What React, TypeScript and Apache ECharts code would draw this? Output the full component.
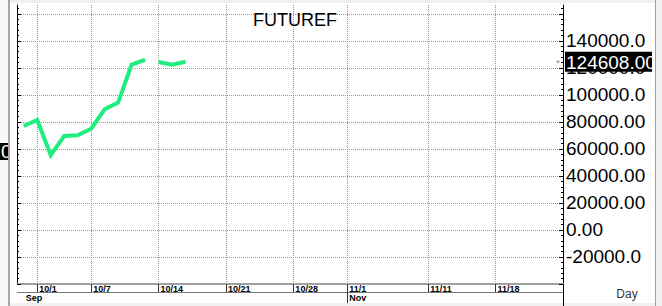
import React, { useEffect, useRef } from 'react';
import * as echarts from 'echarts';

// Trading-day calendar shown on the x axis (index = position on the axis)
const dates = [
  '9/30', '10/1', '10/2', '10/3', '10/4', '10/7', '10/8', '10/9', '10/10', '10/11',
  '10/14', '10/15', '10/16', '10/17', '10/18', '10/21', '10/22', '10/23', '10/24', '10/25',
  '10/28', '10/29', '10/30', '10/31', '11/1', '11/4', '11/5', '11/6', '11/7', '11/8',
  '11/11', '11/12', '11/13', '11/14', '11/15', '11/18', '11/19', '11/20', '11/21', '11/22',
  '11/25',
];
const monthNames = ['Jan', 'Feb', 'Mar', 'Apr', 'May', 'Jun', 'Jul', 'Aug', 'Sep', 'Oct', 'Nov', 'Dec'];

// Series values (one per trading day, starting at 9/30)
const seriesValues = [
  77000, 81500, 55500, 69600, 70200, 75000, 89400, 94300, 122400, 125900,
  124400, 122400, 124608,
];
// break in the line after this date
const gapAfterDates = ['10/11'];

const dayTickLabels = ['10/1', '10/7', '10/14', '10/21', '10/28', '11/1', '11/11', '11/18'];
const monthLabelDates = ['9/30', '11/1'];
const monthTickDates = ['11/1'];

const yTickValues = [-40000, -20000, 0, 20000, 40000, 60000, 80000, 100000, 120000, 140000, 160000];
const yLabelValues = [-20000, 0, 20000, 40000, 60000, 80000, 100000, 120000, 140000];

const titleText = 'FUTUREF';
const periodText = 'Day';

const FONT = '"Liberation Sans", Arial, sans-serif';

export default function App() {
  const ref = useRef<HTMLDivElement>(null);

  useEffect(() => {
    if (!ref.current) return;
    const chart = echarts.init(ref.current, undefined, { renderer: 'svg' });

    const lineData: any[] = [];
    seriesValues.forEach((v, i) => {
      lineData.push([i, v]);
      if (gapAfterDates.includes(dates[i])) lineData.push([i + 0.5, null]);
    });

    const dayIdx = dayTickLabels.map((d) => dates.indexOf(d));
    const monthLabelIdx = monthLabelDates.map((d) => dates.indexOf(d));
    const monthTickIdx = monthTickDates.map((d) => dates.indexOf(d));
    const monthOf = (i: number) => monthNames[parseInt(dates[Math.round(i)].split('/')[0], 10) - 1];

    const yMin = -40000;
    const yMax = 166600;

    chart.setOption({
      animation: false,
      backgroundColor: '#ffffff',
      title: {
        text: titleText,
        left: 290,
        top: 6,
        textAlign: 'center',
        textStyle: { fontFamily: FONT, fontSize: 18, fontWeight: 'normal', color: '#000' },
      },
      grid: { left: 17, right: 89, top: 5, bottom: 22, containLabel: false },
      xAxis: [
        {
          type: 'value',
          min: -0.5,
          max: dates.length - 1,
          position: 'bottom',
          axisLine: { show: true, onZero: false, lineStyle: { color: '#a0a0a0', width: 2 } },
          axisTick: { show: true, customValues: dayIdx, length: 8, lineStyle: { color: '#333' } },
          axisLabel: {
            customValues: dayIdx,
            formatter: (v: number) => dates[Math.round(v)],
            align: 'left',
            padding: [0, 0, 0, 2],
            margin: 0,
            fontSize: 9,
            lineHeight: 10,
            fontWeight: 'bold',
            fontFamily: FONT,
            color: '#000',
          },
          splitLine: { show: true, lineStyle: { type: 'dotted', color: '#999', width: 1 } },
        },
        {
          type: 'value',
          min: -0.5,
          max: dates.length - 1,
          position: 'bottom',
          offset: 8,
          axisLine: { show: true, onZero: false, lineStyle: { color: '#777', width: 1 } },
          axisTick: { show: true, customValues: monthTickIdx, length: 12, lineStyle: { color: '#333' } },
          axisLabel: {
            customValues: monthLabelIdx,
            formatter: (v: number) => monthOf(v),
            align: 'left',
            padding: [0, 0, 0, 2],
            margin: 1,
            fontSize: 9,
            lineHeight: 10,
            fontWeight: 'bold',
            fontFamily: FONT,
            color: '#000',
          },
          splitLine: { show: false },
        },
      ],
      yAxis: [
        {
          type: 'value',
          position: 'right',
          min: yMin,
          max: yMax,
          interval: 20000,
          axisLine: { show: true, onZero: false, lineStyle: { color: '#000' } },
          axisTick: { show: true, inside: true, length: 4, customValues: yTickValues, lineStyle: { color: '#000' } },
          minorTick: { show: true, splitNumber: 5, length: 2, lineStyle: { color: '#000' } },
          axisLabel: {
            customValues: yLabelValues,
            formatter: (v: number) => v.toFixed(2),
            margin: 3,
            fontSize: 19,
            fontFamily: FONT,
            color: '#000',
            width: 82,
            overflow: 'truncate',
            ellipsis: '',
          },
          splitLine: { show: true, lineStyle: { type: 'dotted', color: '#999', width: 1 } },
        },
        {
          type: 'value',
          position: 'left',
          min: yMin,
          max: yMax,
          interval: 20000,
          axisLine: { show: true, onZero: false, lineStyle: { color: '#000' } },
          axisTick: { show: true, inside: true, length: 4, customValues: yTickValues, lineStyle: { color: '#000' } },
          minorTick: { show: true, splitNumber: 5, length: 2, lineStyle: { color: '#000' } },
          axisLabel: { show: false },
          splitLine: { show: false },
        },
      ],
      series: [
        {
          type: 'line',
          xAxisIndex: 0,
          yAxisIndex: 0,
          data: lineData,
          symbol: 'none',
          connectNulls: false,
          lineStyle: { color: '#20EC80', width: 4, join: 'miter' },
        },
      ],
    });

    const lastIdx = seriesValues.length - 1;
    const lastVal = seriesValues[lastIdx];
    const [, py] = chart.convertToPixel({ xAxisIndex: 0, yAxisIndex: 0 }, [lastIdx, lastVal]) as number[];
    const [axisX] = chart.convertToPixel({ xAxisIndex: 0, yAxisIndex: 0 }, [dates.length - 1, yMin]) as number[];
    const [, axisBottom] = chart.convertToPixel({ xAxisIndex: 0, yAxisIndex: 0 }, [0, yMin]) as number[];

    chart.setOption({
      graphic: [
        { type: 'rect', z: 100, shape: { x: 0, y: 0, width: 652, height: 3 }, style: { fill: '#f0f0f0' } },
        { type: 'rect', z: 100, shape: { x: 0, y: 303, width: 652, height: 3 }, style: { fill: '#f0f0f0' } },
        { type: 'rect', z: 100, shape: { x: 0, y: 0, width: 8, height: 306 }, style: { fill: '#f8f8f8' } },
        { type: 'rect', z: 101, shape: { x: 0, y: 143, width: 8, height: 17 }, style: { fill: '#000' } },
        {
          type: 'text', z: 102, x: 1, y: 151,
          style: { text: '0', fill: '#fff', font: `19px ${FONT}`, verticalAlign: 'middle', align: 'left' },
        },
        { type: 'rect', z: 103, shape: { x: 8, y: 0, width: 2, height: 306 }, style: { fill: '#a8a8a8' } },
        { type: 'rect', z: 103, shape: { x: 10, y: 3, width: 6.5, height: 300 }, style: { fill: '#fff' } },
        {
          type: 'line', z: 104,
          shape: { x1: axisX + 0.5, y1: axisBottom, x2: axisX + 0.5, y2: 306 },
          style: { stroke: '#000', lineWidth: 1 },
        },
        {
          type: 'text', z: 104, x: 627, y: 294,
          style: { text: periodText, fill: '#333', font: `12px ${FONT}`, align: 'center', verticalAlign: 'middle' },
        },
        {
          type: 'line', z: 104,
          shape: { x1: axisX - 6.5, y1: py, x2: axisX - 3.5, y2: py },
          style: { stroke: '#888', lineWidth: 1 },
        },
        {
          type: 'line', z: 104,
          shape: { x1: axisX - 5, y1: py - 1.5, x2: axisX - 5, y2: py + 1.5 },
          style: { stroke: '#888', lineWidth: 1 },
        },
        { type: 'rect', z: 105, shape: { x: axisX + 2, y: py - 10, width: 100, height: 20 }, style: { fill: '#000' } },
        {
          type: 'text', z: 106, x: axisX + 3, y: py + 1,
          style: { text: lastVal.toFixed(2), fill: '#fff', font: `19px ${FONT}`, align: 'left', verticalAlign: 'middle' },
        },
      ],
    });

    return () => chart.dispose();
  }, []);

  return (
    <div style={{ position: 'absolute', left: 0, top: 0, width: 662, height: 306, background: '#f0f0f0', overflow: 'hidden' }}>
      <div ref={ref} style={{ position: 'absolute', left: 0, top: 0, width: 652, height: 306 }} />
      <div style={{ position: 'absolute', left: 652, top: 3, width: 3, height: 300, background: '#fff' }} />
      <div style={{ position: 'absolute', left: 655, top: 0, width: 1, height: 306, background: '#a0a0a0' }} />
    </div>
  );
}
